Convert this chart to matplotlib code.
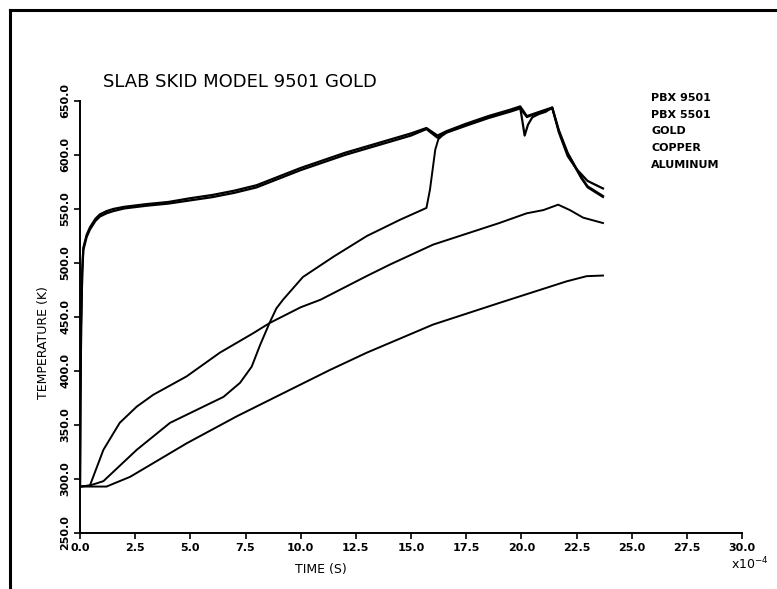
#!/usr/bin/env python3
"""Redraw of the old plotter figure: slab skid model, PBX 9501 on gold."""

import matplotlib

matplotlib.use("Agg")
import matplotlib.pyplot as plt
from matplotlib.lines import Line2D

# time axis is in units of 1e-4 s, temperatures in K
T_PBX9501 = [0, 0.02, 0.05, 0.1, 0.15, 0.3, 0.45, 0.7, 0.9, 1.2, 1.5, 2.0, 3.0, 4.0, 5.0, 6.0,
             7.0, 8.0, 9.0, 10.0, 11.0, 12.0, 13.0, 14.0, 15.0, 15.7, 16.2, 16.6, 17.5, 18.5,
             19.5, 19.95, 20.15, 20.3, 20.5, 20.8, 21.1, 21.4, 21.7, 22.1, 22.5, 23.0, 23.7]
Y_PBX9501 = [293, 370, 440, 490, 512, 524, 531, 539, 543, 546, 548, 550.5, 553, 555, 558, 561,
             565, 570, 578, 586, 593, 600, 606, 612, 618, 624, 616, 621, 628, 635,
             641, 644, 618, 628, 635, 638, 640, 644, 621, 599, 587, 576, 569]

T_PBX5501 = [0, 0.02, 0.05, 0.1, 0.15, 0.3, 0.45, 0.7, 0.9, 1.2, 1.5, 2.0, 3.0, 4.0, 5.0, 6.0,
             7.0, 8.0, 9.0, 10.0, 11.0, 12.0, 13.0, 14.0, 15.0, 15.7, 16.2, 16.6, 17.5, 18.5,
             19.5, 19.95, 20.25, 20.75, 21.4, 21.7, 22.1, 22.7, 23.0, 23.7]
Y_PBX5501 = [293, 372, 442, 492, 514, 526, 533, 541, 545, 548, 550, 552, 554.5, 556.5, 560, 563,
             567, 572, 580, 588, 595, 602, 608, 614, 620, 625, 618, 622, 629, 636,
             642, 645, 636, 639.5, 644, 623, 602, 580, 571, 562]

T_GOLD = [0, 0.45, 1.06, 2.57, 4.08, 5.59, 6.5, 7.25, 7.78, 8.16, 8.6, 8.9, 9.2, 10.1, 11.5,
          13.0, 14.5, 15.7, 15.86, 16.1, 16.24, 16.4, 16.6, 17.5, 18.5, 19.5, 19.95, 20.25,
          20.75, 21.4, 21.7, 22.1, 22.7, 23.0, 23.7]
Y_GOLD = [293, 294, 298, 327, 352, 367, 376, 389, 404, 424, 445, 458, 466, 487, 506,
          525, 540, 551, 568, 605, 614.6, 617.6, 620.5, 627, 634, 640, 643, 635,
          639, 643, 622, 601, 579, 570, 561]

T_COPPER = [0, 0.45, 1.06, 1.8, 2.57, 3.32, 4.83, 6.34, 7.85, 8.6, 10.0, 10.9, 13.0, 14.05,
            16.0, 19.0, 20.24, 21.0, 21.67, 22.2, 22.8, 23.7]
Y_COPPER = [293, 294, 327, 352, 367, 378, 395, 417, 435, 444.5, 459, 466, 488, 498.6,
            517, 537, 546, 549, 554, 549, 542, 537]

T_ALUMINUM = [0, 1.2, 2.27, 3.32, 4.83, 7.1, 9.36, 11.33, 13.0, 16.0, 19.0, 22.05, 22.96, 23.7]
Y_ALUMINUM = [293, 293, 302, 314.7, 333, 358, 381, 401, 417, 443, 463, 483, 487.8, 488.4]

LABELS = ["PBX 9501", "PBX 5501", "GOLD", "COPPER", "ALUMINUM"]

X_TICKS = [0.0, 2.5, 5.0, 7.5, 10.0, 12.5, 15.0, 17.5, 20.0, 22.5, 25.0, 27.5, 30.0]
Y_TICKS = [250.0, 300.0, 350.0, 400.0, 450.0, 500.0, 550.0, 600.0, 650.0]

W, H = 777, 589


def main():
    plt.rcParams["font.family"] = ["DejaVu Sans"]
    fig = plt.figure(figsize=(W / 100, H / 100), dpi=100)
    ax = fig.add_axes([80 / W, 1 - 533 / H, 662 / W, 432 / H])

    series = [
        (T_PBX9501, Y_PBX9501, 1.6),
        (T_PBX5501, Y_PBX5501, 1.6),
        (T_GOLD, Y_GOLD, 1.4),
        (T_COPPER, Y_COPPER, 1.4),
        (T_ALUMINUM, Y_ALUMINUM, 1.4),
    ]
    for t, y, lw in series:
        ax.plot(t, y, color="black", lw=lw, solid_joinstyle="round")

    ax.set_xlim(0, 30)
    ax.set_ylim(250, 650)
    ax.set_xticks(X_TICKS)
    ax.set_xticklabels([f"{v:.1f}" for v in X_TICKS], fontsize=8, fontweight="bold")
    ax.set_yticks(Y_TICKS)
    ax.set_yticklabels([f"{v:.1f}" for v in Y_TICKS], fontsize=8, fontweight="bold",
                       rotation=90, va="center")
    ax.tick_params(direction="out", length=4, width=1.2, pad=3)
    for side in ("top", "right"):
        ax.spines[side].set_visible(False)
    for side in ("left", "bottom"):
        ax.spines[side].set_linewidth(1.4)

    ax.set_ylabel("TEMPERATURE (K)", fontsize=9)
    ax.yaxis.set_label_coords(-0.045, 0.44)
    ax.set_xlabel("TIME (S)", fontsize=9)
    ax.xaxis.set_label_coords(0.364, -0.07)
    ax.text(1.012, 1 - (556 - 101) / 432, "x10$^{-4}$", transform=ax.transAxes, fontsize=9,
            ha="center", va="top")

    fig.text(103 / W, 1 - 87 / H, "SLAB SKID MODEL 9501 GOLD", fontsize=13,
             ha="left", va="baseline")
    for i, lab in enumerate(LABELS):
        fig.text(651 / W, 1 - (98 + 16.7 * i) / H, lab, fontsize=8, fontweight="bold",
                 ha="left", va="center")

    # page border from the scan (left and top edges only)
    fig.add_artist(Line2D([10 / W, 10 / W], [0, 1 - 10 / H], transform=fig.transFigure,
                          color="black", lw=2.2))
    fig.add_artist(Line2D([10 / W, 1], [1 - 10 / H, 1 - 10 / H], transform=fig.transFigure,
                          color="black", lw=2.2))

    fig.savefig("out.png", dpi=100)
    plt.close(fig)


if __name__ == "__main__":
    main()
